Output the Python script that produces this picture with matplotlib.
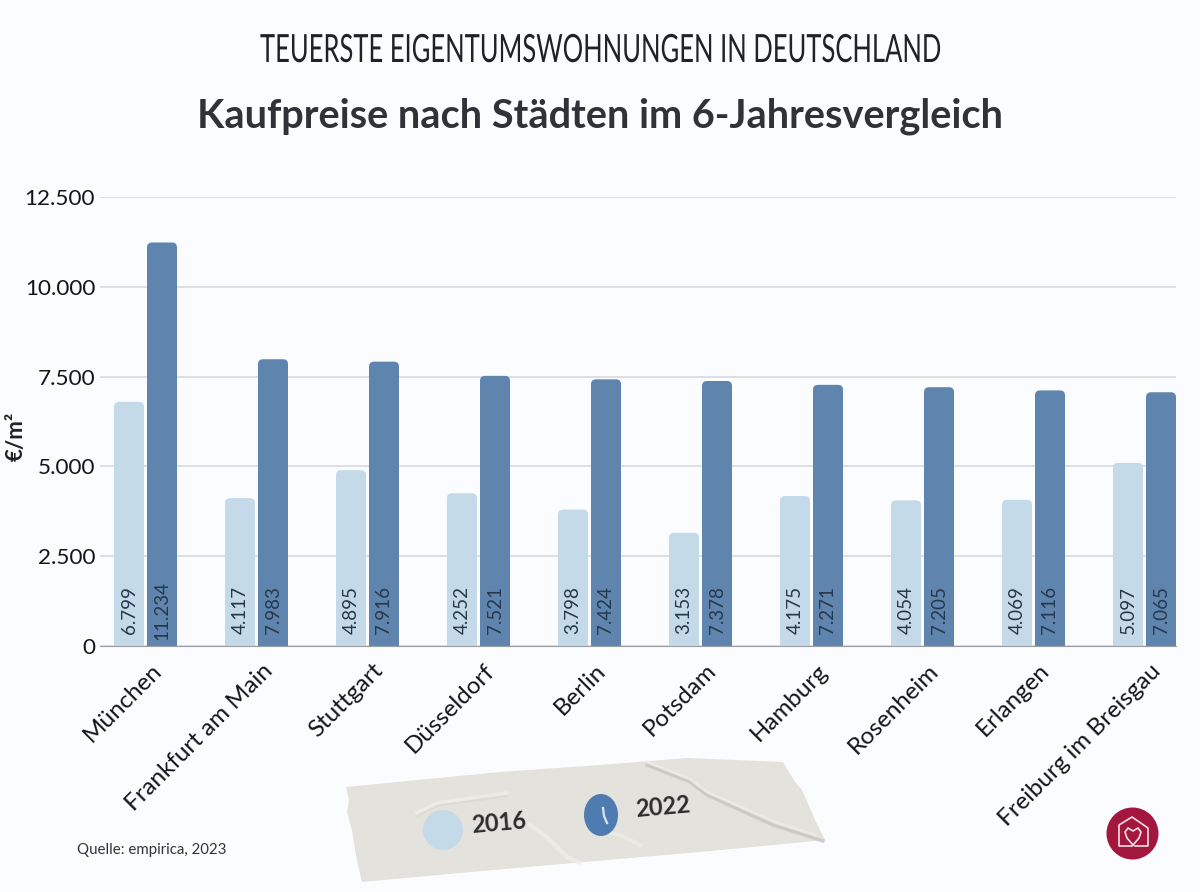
import matplotlib
matplotlib.use("Agg")
import matplotlib.pyplot as plt
from matplotlib.patches import Circle, Ellipse, FancyBboxPatch, Polygon
from matplotlib.patheffects import AbstractPathEffect
from matplotlib.transforms import Affine2D, ScaledTranslation

plt.rcParams["font.family"] = ["Lato", "DejaVu Sans"]

CITIES = ["München", "Frankfurt am Main", "Stuttgart", "Düsseldorf", "Berlin",
          "Potsdam", "Hamburg", "Rosenheim", "Erlangen", "Freiburg im Breisgau"]
PRICE_2016 = [6799, 4117, 4895, 4252, 3798, 3153, 4175, 4054, 4069, 5097]
PRICE_2022 = [11234, 7983, 7916, 7521, 7424, 7378, 7271, 7205, 7116, 7065]
Y_TICKS = [0, 2500, 5000, 7500, 10000, 12500]
Y_LABELS = ["0", "2.500", "5.000", "7.500", "10.000", "12.500"]

BG = "#fbfcfe"
LIGHT = "#c5dae8"
DARK = "#5f85ae"
TEXT = "#2f3338"
LOGO_RED = "#a3173f"
TAPE = "#e3e2dc"

W, H = 1200, 892
fig = plt.figure(figsize=(W / 100, H / 100), dpi=100, facecolor=BG)


class SqueezeX(AbstractPathEffect):
    # narrows a text horizontally around a pixel position, no condensed font installed
    def __init__(self, factor, center_px):
        super().__init__()
        self.factor = factor
        self.center_px = center_px

    def draw_path(self, renderer, gc, tpath, affine, rgbFace=None):
        squeeze = Affine2D().translate(-self.center_px, 0).scale(self.factor, 1).translate(self.center_px, 0)
        renderer.draw_path(gc, tpath, affine + squeeze, rgbFace)


# plot area placed in pixels: y=0 at 646, 12500 at 197, x from 100 to 1176
ax = fig.add_axes([100 / W, 1 - 646 / H, 1076 / W, 449 / H], facecolor=BG)
group_px = 111.0
first_px = 145.5
ax.set_xlim((100 - first_px) / group_px, (1176 - first_px) / group_px)
ax.set_ylim(0, 12500)

bar_w = 30 / group_px
gap = 3 / group_px
aspect = (12500 / 449) / (1 / group_px)


def rounded_bar(x0, value, color):
    # starts below zero so only the top corners show, the axes clip the rest
    box = FancyBboxPatch((x0, -400), bar_w, value + 400,
                         boxstyle=f"round,pad=0,rounding_size={5 / group_px}",
                         mutation_aspect=aspect, facecolor=color, edgecolor="none", zorder=3)
    ax.add_patch(box)


for i, (a, b) in enumerate(zip(PRICE_2016, PRICE_2022)):
    rounded_bar(i - gap / 2 - bar_w, a, LIGHT)
    rounded_bar(i + gap / 2, b, DARK)
    for x, v in ((i - gap / 2 - bar_w / 2, a), (i + gap / 2 + bar_w / 2, b)):
        label = f"{v:,}".replace(",", ".")
        ax.text(x, 1000, label, rotation=90, ha="center", va="center", fontsize=13.5,
                color="#26384d", zorder=4)

ax.set_yticks(Y_TICKS, Y_LABELS, fontsize=16.2, color="#151515")
ax.set_xticks(range(len(CITIES)))
ax.set_xticklabels(CITIES, rotation=45, ha="right", rotation_mode="anchor", fontsize=17.4, color="#151515")
ax.tick_params(axis="both", length=0)
ax.tick_params(axis="y", pad=3.5)
ax.tick_params(axis="x", pad=10)
shift = ScaledTranslation(5 / 100, 0, fig.dpi_scale_trans)
for tick in ax.get_xticklabels():
    tick.set_transform(tick.get_transform() + shift)
ax.grid(axis="y", color="#d3d7dc", linewidth=1.1, zorder=1)
ax.set_axisbelow(True)
for name, spine in ax.spines.items():
    spine.set_visible(name == "bottom")
ax.spines["bottom"].set_color("#9a9da1")
ax.spines["bottom"].set_zorder(5)

# overlay in pixel coordinates for headings, tape legend and logo
deco = fig.add_axes([0, 0, 1, 1], facecolor="none")
deco.set_xlim(0, W)
deco.set_ylim(H, 0)
deco.axis("off")

kicker = deco.text(600, 51, "TEUERSTE EIGENTUMSWOHNUNGEN IN DEUTSCHLAND", ha="center", va="center",
                   fontsize=28, color="#1f2226", fontweight="normal")
kicker_w = kicker.get_window_extent(fig.canvas.get_renderer()).width
kicker.set_path_effects([SqueezeX(680 / kicker_w, 600)])
deco.text(600, 116, "Kaufpreise nach Städten im 6-Jahresvergleich", ha="center", va="center",
          fontsize=28.6, color=TEXT, fontweight="bold")
deco.text(16, 436, "€/m²", rotation=90, ha="center", va="center", fontsize=16,
          color="#222222", fontweight="bold")
deco.text(77, 850, "Quelle: empirica, 2023", ha="left", va="center", fontsize=10.8, color="#333333")

# tape
tape_pts = [(346, 787), (349, 800), (347, 812), (352, 830), (355, 850), (358, 865), (362, 882),
            (460, 873), (573, 863), (700, 852), (825, 840), (815, 820), (810, 808), (802, 790),
            (795, 782), (783, 762), (687, 758), (600, 765), (500, 772)]
deco.add_patch(Polygon(tape_pts, closed=True, facecolor=TAPE, edgecolor="none", zorder=1))
deco.plot([647, 690, 707, 773, 823], [765, 782, 795, 825, 841], color="#c6c5be", linewidth=2.4, alpha=0.8, zorder=2)
deco.plot([647, 690, 707, 773, 815], [762, 779, 792, 821, 835], color="#efeeea", linewidth=2, alpha=0.7, zorder=2)
deco.plot([417, 437, 457, 507], [813, 803, 800, 793], color="#f0efeb", linewidth=2.5, alpha=0.75, zorder=2)
deco.plot([417, 437, 457, 507], [816, 806, 803, 796], color="#d5d4cd", linewidth=1.5, alpha=0.5, zorder=2)
deco.plot([530, 547, 567, 580], [825, 837, 857, 863], color="#f0efeb", linewidth=3, alpha=0.7, zorder=2)
deco.plot([600, 620, 640], [830, 835, 845], color="#f0efeb", linewidth=3, alpha=0.6, zorder=2)

deco.add_patch(Circle((443, 830), 20, facecolor=LIGHT, edgecolor="none", zorder=3))
deco.add_patch(Ellipse((601, 815), 34, 42, facecolor="#4f7cb0", edgecolor="none", zorder=3))
deco.plot([603, 604, 607], [808, 816, 823], color="#dce6f0", linewidth=1.6, zorder=4)
deco.text(499, 823, "2016", rotation=5, ha="center", va="center", fontsize=17, fontweight="bold", color="#2c2c2c", zorder=4)
deco.text(663, 807, "2022", rotation=5, ha="center", va="center", fontsize=17, fontweight="bold", color="#2c2c2c", zorder=4)

# logo
deco.add_patch(Circle((1132.5, 833.5), 26, facecolor=LOGO_RED, edgecolor="none", zorder=3))
house_x = [1132, 1119, 1119, 1132, 1148, 1148, 1135]
house_y = [846, 846, 825, 817, 828, 846, 846]
deco.plot(house_x, house_y, color="#f6dfe6", linewidth=1.2, zorder=4)
heart_x = [1133, 1127, 1125, 1128, 1133, 1138, 1141, 1139, 1133]
heart_y = [845, 838, 832, 828, 831, 828, 832, 838, 845]
deco.plot(heart_x, heart_y, color="#f6dfe6", linewidth=1.2, zorder=4)

fig.savefig("out.png", dpi=100, facecolor=BG)
